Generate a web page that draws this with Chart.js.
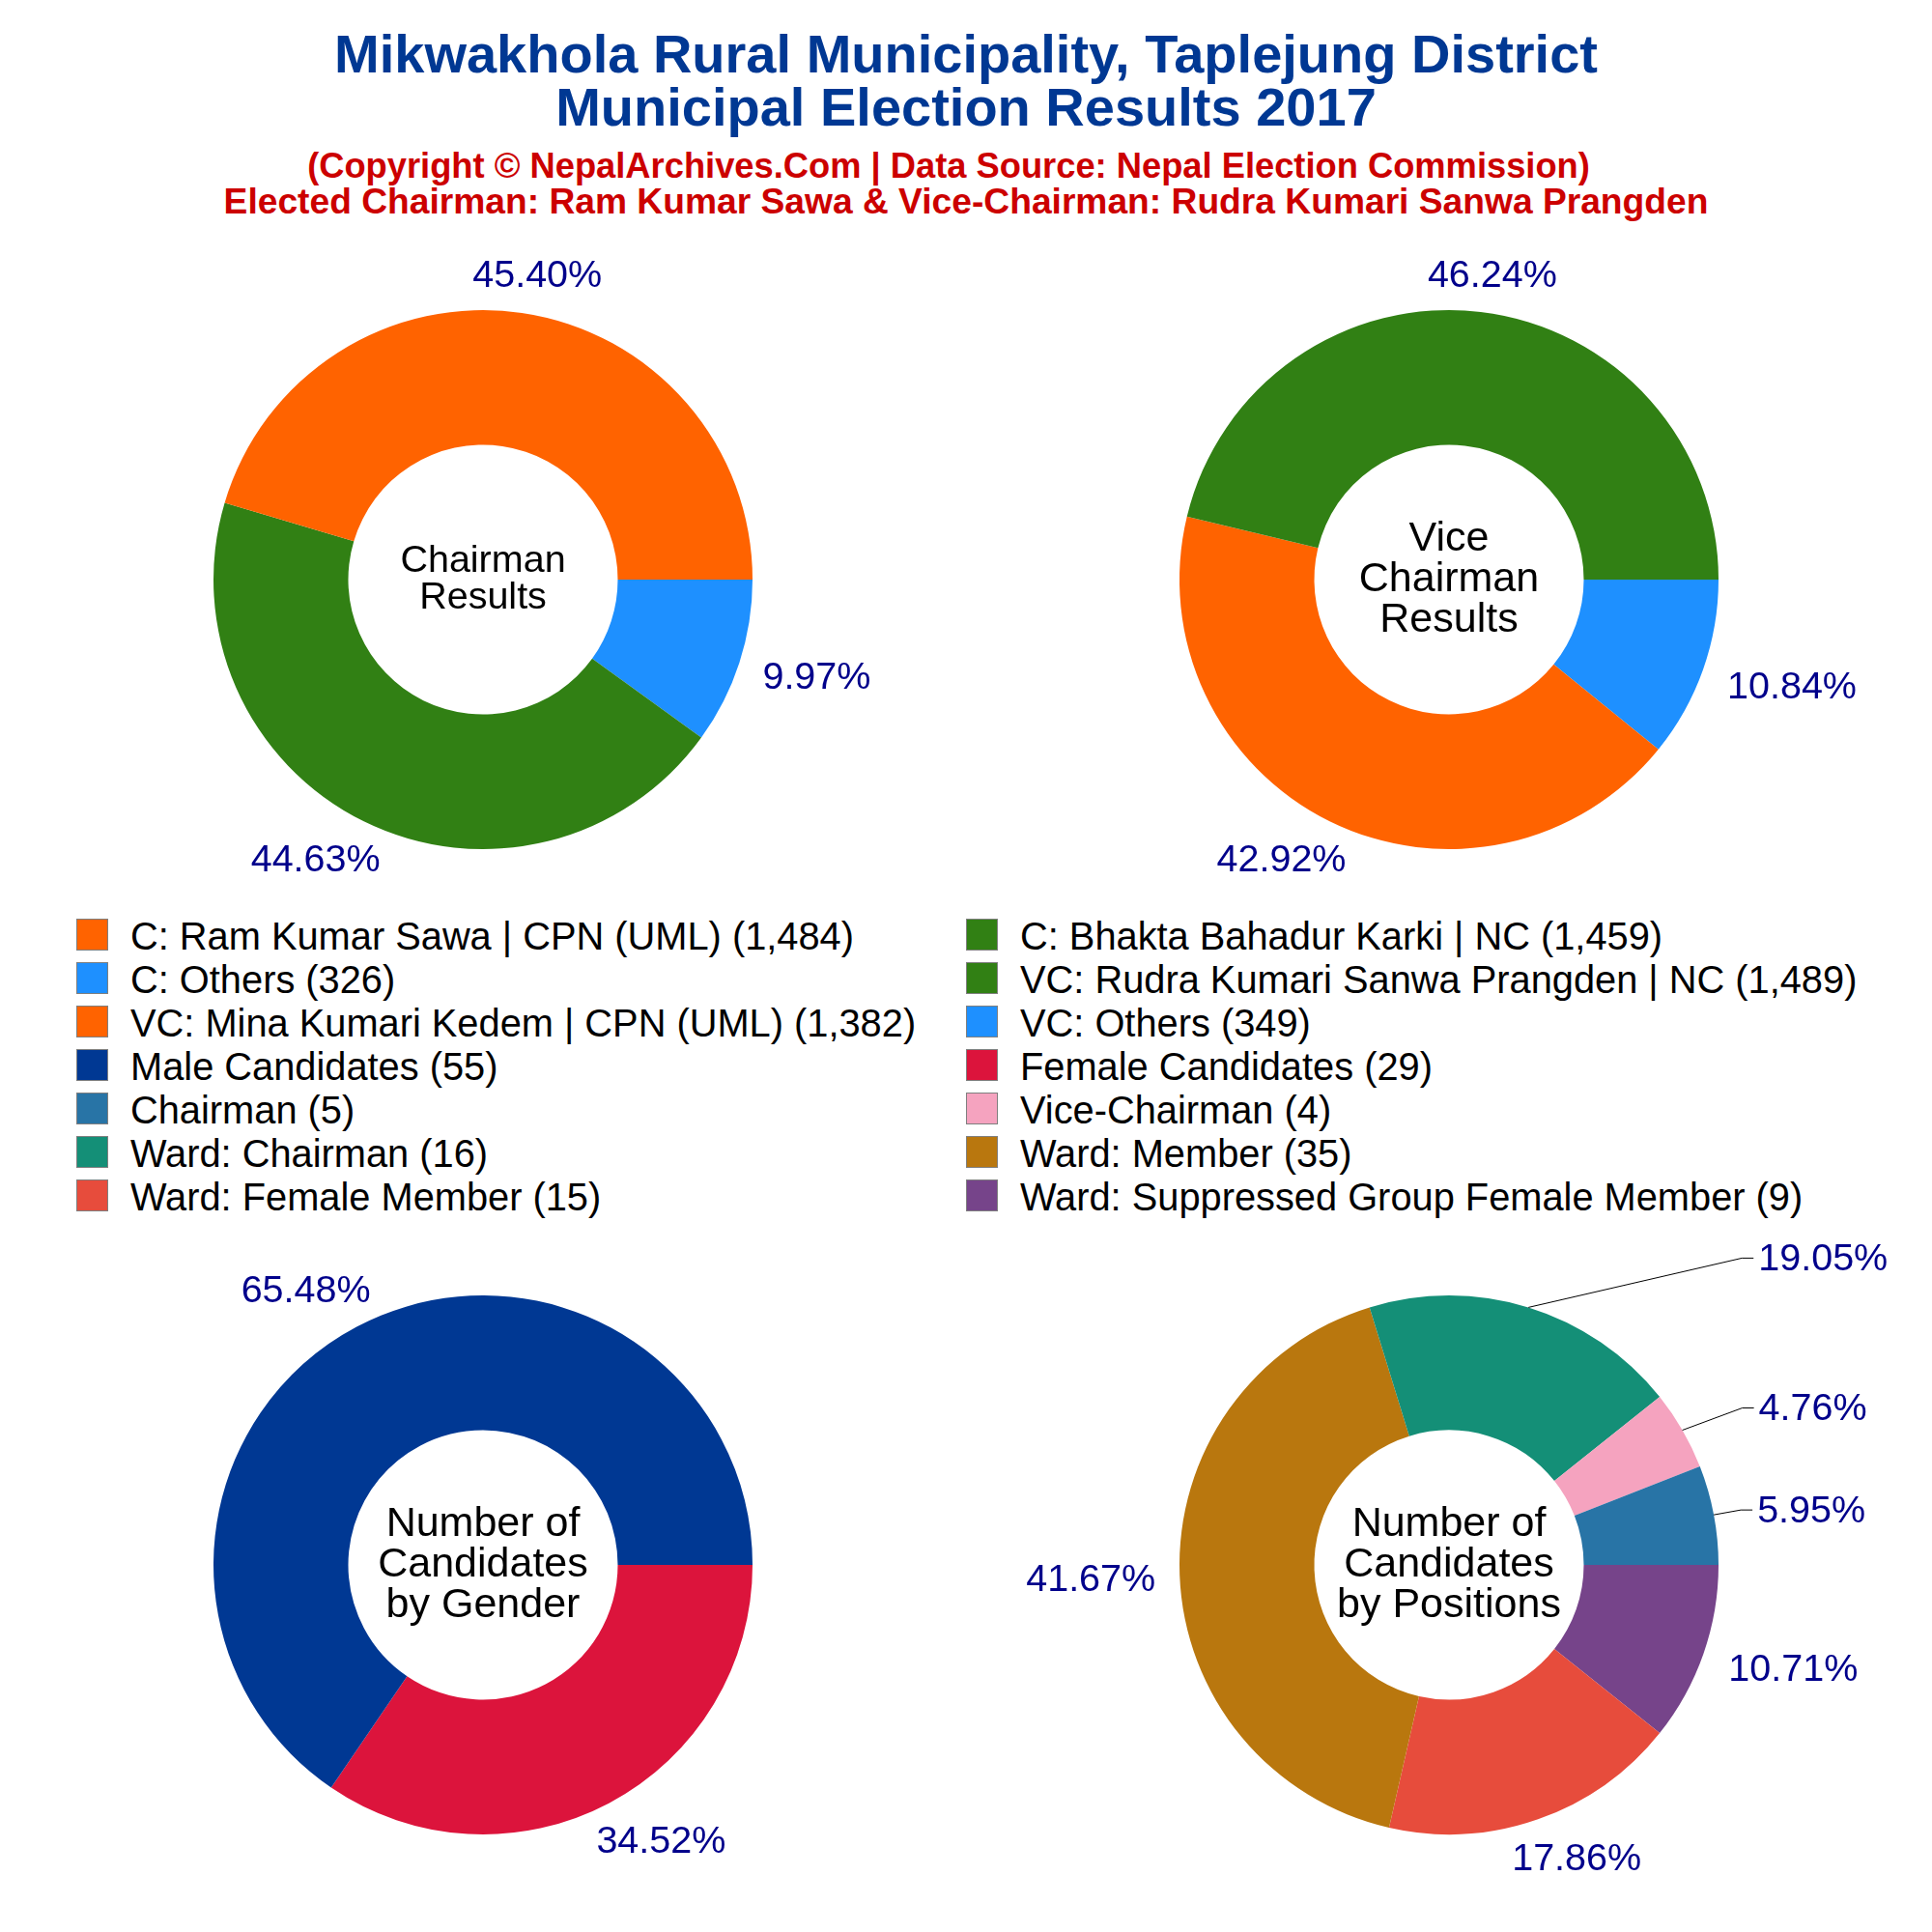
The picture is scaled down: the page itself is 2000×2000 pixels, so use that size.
<!DOCTYPE html>
<html>
<head>
<meta charset="utf-8">
<title>Mikwakhola Rural Municipality Election Results 2017</title>
<script src="https://cdn.jsdelivr.net/npm/chart.js@4"></script>
<style>
  html, body { margin: 0; padding: 0; background: #fff; }
  body { position: relative; width: 2000px; height: 2000px; overflow: hidden; font-family: "Liberation Sans", Arial, sans-serif; }
  canvas { position: absolute; }
  .title { position: absolute; left: 0; width: 2000px; text-align: center; font-weight: bold; white-space: nowrap; }
  .main { color: #003893; font-size: 56px; line-height: 55px; top: 28px; }
  .sub { color: #cc0000; line-height: 37px; }
  .key { position: absolute; font-size: 39.8px; line-height: 45px; height: 45px; color: #000; white-space: nowrap; }
  .key i { position: absolute; left: 0; top: 6px; width: 31px; height: 31px; border: 1px solid #7f7f7f; }
  .key span { position: absolute; left: 56px; top: 2px; }
</style>
</head>
<body>
<div class="title main">Mikwakhola Rural Municipality, Taplejung District<br>Municipal Election Results 2017</div>
<div class="title sub" style="font-size:36.3px;top:153px;left:-18px">(Copyright © NepalArchives.Com | Data Source: Nepal Election Commission)</div>
<div class="title sub" style="font-size:37.2px;top:190px">Elected Chairman: Ram Kumar Sawa &amp; Vice-Chairman: Rudra Kumari Sanwa Prangden</div>
<div id="legend"></div>
<canvas id="chart-chairman" width="1000" height="700" style="left:0;top:250px"></canvas>
<canvas id="chart-vice" width="1000" height="700" style="left:1000px;top:250px"></canvas>
<canvas id="chart-gender" width="1000" height="700" style="left:0;top:1270px"></canvas>
<canvas id="chart-positions" width="1000" height="700" style="left:1000px;top:1270px"></canvas>
<script>
  "use strict";

  const ORANGE = "#ff6300";
  const GREEN = "#318014";
  const BLUE = "#1e90ff";

  const chairmanLabels = ["C: Ram Kumar Sawa | CPN (UML)", "C: Bhakta Bahadur Karki | NC", "C: Others"];
  const chairmanVotes = [1484, 1459, 326];
  const chairmanColors = [ORANGE, GREEN, BLUE];

  const viceLabels = ["VC: Rudra Kumari Sanwa Prangden | NC", "VC: Mina Kumari Kedem | CPN (UML)", "VC: Others"];
  const viceVotes = [1489, 1382, 349];
  const viceColors = [GREEN, ORANGE, BLUE];

  const genderLabels = ["Male Candidates", "Female Candidates"];
  const genderCounts = [55, 29];
  const genderColors = ["#003893", "#dc143c"];

  const positionLabels = ["Chairman", "Vice-Chairman", "Ward: Chairman", "Ward: Member", "Ward: Female Member", "Ward: Suppressed Group Female Member"];
  const positionCounts = [5, 4, 16, 35, 15, 9];
  const positionColors = ["#2874a6", "#f5a3bf", "#148f77", "#b9770e", "#e74c3c", "#76448a"];

  // legend rows, left column then right column
  const legendLeft = [
    [chairmanLabels[0], chairmanVotes[0], ORANGE],
    [chairmanLabels[2], chairmanVotes[2], BLUE],
    [viceLabels[1], viceVotes[1], ORANGE],
    [genderLabels[0], genderCounts[0], genderColors[0]],
    [positionLabels[0], positionCounts[0], positionColors[0]],
    [positionLabels[2], positionCounts[2], positionColors[2]],
    [positionLabels[4], positionCounts[4], positionColors[4]],
  ];
  const legendRight = [
    [chairmanLabels[1], chairmanVotes[1], GREEN],
    [viceLabels[0], viceVotes[0], GREEN],
    [viceLabels[2], viceVotes[2], BLUE],
    [genderLabels[1], genderCounts[1], genderColors[1]],
    [positionLabels[1], positionCounts[1], positionColors[1]],
    [positionLabels[3], positionCounts[3], positionColors[3]],
    [positionLabels[5], positionCounts[5], positionColors[5]],
  ];

  const fmtInt = (n) => new Intl.NumberFormat("en-US").format(n);

  function renderLegend(rows, left) {
    const box = document.getElementById("legend");
    rows.forEach(([label, value, color], i) => {
      const row = document.createElement("div");
      row.className = "key";
      row.style.left = left + "px";
      row.style.top = 945 + i * 45 + "px";
      row.innerHTML = `<i style="background:${color}"></i><span>${label} (${fmtInt(value)})</span>`;
      box.appendChild(row);
    });
  }
  renderLegend(legendLeft, 79);
  renderLegend(legendRight, 1000);

  // Percent labels sit at an offset from the middle of the slice's outer edge.
  const percentLabels = {
    id: "percentLabels",
    afterDraw(chart, args, opts) {
      const ctx = chart.ctx;
      const arcs = chart.getDatasetMeta(0).data;
      const values = opts.values;
      const total = values.reduce((sum, v) => sum + v, 0);
      ctx.save();
      ctx.font = "39.5px 'Liberation Sans', Arial, sans-serif";
      ctx.textAlign = "center";
      ctx.textBaseline = "middle";
      values.forEach((v, i) => {
        const arc = arcs[values.length - 1 - i]; // drawn reversed, see doughnut()
        const mid = (arc.startAngle + arc.endAngle) / 2;
        const px = arc.x + arc.outerRadius * Math.cos(mid);
        const py = arc.y + arc.outerRadius * Math.sin(mid);
        const [dx, dy] = opts.offsets[i];
        const text = ((v / total) * 100).toFixed(2) + "%";
        const lx = px + dx;
        const ly = py + dy;
        if (opts.leaders && opts.leaders[i]) {
          const end = lx - ctx.measureText(text).width / 2 - 5;
          ctx.strokeStyle = "#000";
          ctx.lineWidth = 1;
          ctx.beginPath();
          ctx.moveTo(px, py);
          ctx.lineTo(end - 12, ly - 2);
          ctx.lineTo(end, ly - 2);
          ctx.stroke();
        }
        ctx.fillStyle = "#00008b";
        ctx.fillText(text, lx, ly);
      });
      ctx.restore();
    },
  };

  const centerText = {
    id: "centerText",
    afterDraw(chart, args, opts) {
      const ctx = chart.ctx;
      const arc = chart.getDatasetMeta(0).data[0];
      ctx.save();
      ctx.font = `${opts.size}px 'Liberation Sans', Arial, sans-serif`;
      ctx.fillStyle = "#000";
      ctx.textAlign = "center";
      ctx.textBaseline = "middle";
      opts.lines.forEach((line, i) => {
        ctx.fillText(line, arc.x, arc.y + (i - (opts.lines.length - 1) / 2) * opts.lineHeight);
      });
      ctx.restore();
    },
  };

  // R pies run counter-clockwise from 3 o'clock; Chart.js only goes clockwise,
  // so the slices are handed over reversed and start at 90 degrees.
  function doughnut(id, labels, values, colors, plugOpts) {
    return new Chart(document.getElementById(id).getContext("2d"), {
      type: "doughnut",
      data: {
        labels: [...labels].reverse(),
        datasets: [{
          data: [...values].reverse(),
          backgroundColor: [...colors].reverse(),
          borderWidth: 0,
          radius: 279,
          cutout: "50%",
        }],
      },
      options: {
        responsive: false,
        animation: false,
        rotation: 90,
        plugins: {
          legend: { display: false },
          tooltip: { enabled: false },
          percentLabels: { values, offsets: plugOpts.offsets, leaders: plugOpts.leaders },
          centerText: { lines: plugOpts.lines, size: plugOpts.size, lineHeight: plugOpts.lineHeight },
        },
      },
      plugins: [percentLabels, centerText],
    });
  }

  doughnut("chart-chairman", chairmanLabels, chairmanVotes, chairmanColors, {
    offsets: [[16, -38], [-50, 41], [80, 16]],
    lines: ["Chairman", "Results"], size: 39.5, lineHeight: 38,
  });
  doughnut("chart-vice", viceLabels, viceVotes, viceColors, {
    offsets: [[12, -37], [-50, 41], [92, 19]],
    lines: ["Vice", "Chairman", "Results"], size: 43, lineHeight: 42,
  });
  doughnut("chart-gender", genderLabels, genderCounts, genderColors, {
    offsets: [[-53, -36], [54, 40]],
    lines: ["Number of", "Candidates", "by Gender"], size: 43, lineHeight: 42,
  });
  doughnut("chart-positions", positionLabels, positionCounts, positionColors, {
    offsets: [[101, -3], [135, -21], [305, -49], [-92, 6], [40, 42], [93, 17]],
    leaders: [true, true, true, false, false, false],
    lines: ["Number of", "Candidates", "by Positions"], size: 43, lineHeight: 42,
  });
</script>
</body>
</html>
